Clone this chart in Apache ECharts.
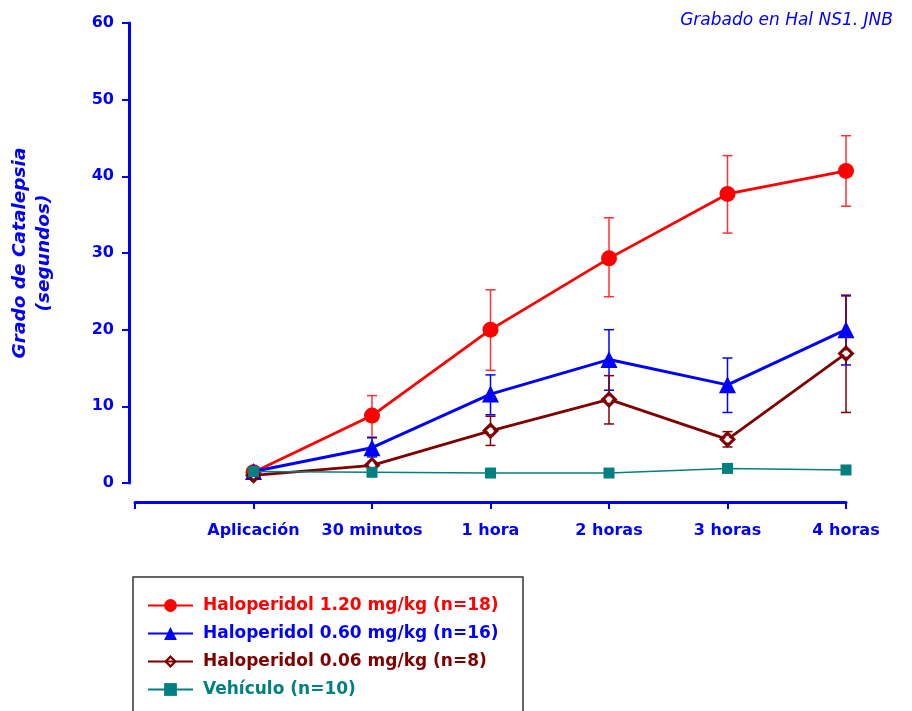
<!DOCTYPE html>
<html><head><meta charset="utf-8">
<script src="https://cdn.jsdelivr.net/npm/echarts@6/dist/echarts.min.js"></script>
<style>html,body{margin:0;padding:0;background:#fff}#c{width:912px;height:711px}</style>
</head><body><div id="c"></div>
<script>
var categories = ['', 'Aplicación', '30 minutos', '1 hora', '2 horas', '3 horas', '4 horas'];
var timepoints = ['Aplicación', '30 minutos', '1 hora', '2 horas', '3 horas', '4 horas'];
var yTicks = [0, 10, 20, 30, 40, 50, 60];

var hal120 = [1.4, 8.8, 20.0, 29.3, 37.7, 40.7];
var hal120Hi = [null, 11.4, 25.2, 34.6, 42.7, 45.3];
var hal120Lo = [null, 6.0, 14.7, 24.3, 32.6, 36.1];

var hal060 = [1.5, 4.6, 11.6, 16.1, 12.8, 20.0];
var hal060Hi = [null, 5.9, 14.1, 20.0, 16.3, 24.5];
var hal060Lo = [null, 3.4, 8.9, 12.1, 9.2, 15.4];

var hal006 = [1.0, 2.3, 6.8, 10.9, 5.7, 16.9];
var hal006Hi = [null, null, 8.7, 14.0, 6.7, 24.4];
var hal006Lo = [null, null, 4.9, 7.7, 4.7, 9.2];

var vehiculo = [1.5, 1.4, 1.3, 1.3, 1.9, 1.7];

var names = ['Haloperidol 1.20 mg/kg (n=18)', 'Haloperidol 0.60 mg/kg (n=16)', 'Haloperidol 0.06 mg/kg (n=8)', 'Vehículo (n=10)'];
var colors = ['#ff0000', '#0000ff', '#800000', '#008080'];
var errColors = ['#ff3030', '#0000ff', '#800000', '#008080'];
var BLUE = '#0000ff';
var FONT = 'DejaVu Sans';
var RING = 'path://M0,-10 L10,0 L0,10 L-10,0 Z M0,-5 L-5,0 L0,5 L5,0 Z';

function pts(vals) { return timepoints.map(function (c, i) { return [c, vals[i]]; }); }
function errData(hi, lo) {
  var out = [];
  timepoints.forEach(function (c, i) { if (hi[i] != null) out.push([c, lo[i], hi[i]]); });
  return out;
}
function errSeries(hi, lo, color, z) {
  return {
    type: 'custom', z: z, silent: true,
    data: errData(hi, lo),
    encode: { x: 0, y: [1, 2] },
    renderItem: function (params, api) {
      var x = api.value(0);
      var p1 = api.coord([x, api.value(1)]);
      var p2 = api.coord([x, api.value(2)]);
      var w = 5;
      var st = { stroke: color, lineWidth: 1.5 };
      return { type: 'group', children: [
        { type: 'line', shape: { x1: p1[0], y1: p1[1], x2: p2[0], y2: p2[1] }, style: st },
        { type: 'line', shape: { x1: p1[0] - w, y1: p1[1], x2: p1[0] + w, y2: p1[1] }, style: st },
        { type: 'line', shape: { x1: p2[0] - w, y1: p2[1], x2: p2[0] + w, y2: p2[1] }, style: st }
      ] };
    }
  };
}

var chart = echarts.init(document.getElementById('c'), null, { renderer: 'canvas' });
chart.setOption({
  animation: false,
  textStyle: { fontFamily: FONT },
  grid: { left: 133, right: 66, top: 23, bottom: 228 },
  xAxis: {
    type: 'category', data: categories, boundaryGap: false, offset: 19,
    axisLine: { onZero: false, lineStyle: { color: BLUE, width: 3 } },
    axisTick: { show: true, length: 7, interval: 0, lineStyle: { color: BLUE, width: 2 } },
    axisLabel: { color: BLUE, fontWeight: 'bold', fontSize: 16, margin: 21, interval: 0, fontFamily: FONT },
    splitLine: { show: false }
  },
  yAxis: {
    type: 'value', min: 0, max: 60, interval: 10, offset: 6,
    name: 'Grado de Catalepsia\n(segundos)',
    nameLocation: 'middle', nameRotate: 90, nameGap: 73,
    nameTextStyle: { color: BLUE, fontWeight: 'bold', fontStyle: 'italic', fontSize: 18.5, lineHeight: 24, fontFamily: FONT },
    axisLine: { show: true, lineStyle: { color: BLUE, width: 3 } },
    axisTick: { show: true, length: 7, lineStyle: { color: BLUE, width: 2 } },
    axisLabel: { color: BLUE, fontWeight: 'bold', fontSize: 16, margin: 15, fontFamily: FONT,
      formatter: function (v) { return yTicks.indexOf(v) >= 0 ? String(v) : ''; } },
    splitLine: { show: false }
  },
  legend: {
    orient: 'vertical', left: 142, top: 592,
    itemWidth: 45, itemHeight: 16, itemGap: 11,
    data: names.map(function (n, i) {
      var d = { name: n, textStyle: { color: colors[i] } };
      return d;
    }),
    textStyle: { fontWeight: 'bold', fontSize: 17, lineHeight: 16, fontFamily: FONT, padding: [0, 0, 0, 5] }
  },
  graphic: [
    { type: 'rect', shape: { x: 133, y: 577, width: 390, height: 200 },
      style: { fill: 'none', stroke: '#333', lineWidth: 1.5 }, z: 0 },
    { type: 'text', right: 19, top: 12,
      style: { text: 'Grabado en Hal NS1. JNB', fill: BLUE, font: 'italic 17px "' + FONT + '"' } }
  ],
  series: [
    errSeries(hal120Hi, hal120Lo, errColors[0], 2),
    errSeries(hal060Hi, hal060Lo, errColors[1], 2),
    errSeries(hal006Hi, hal006Lo, errColors[2], 2),
    { name: names[0], type: 'line', data: pts(hal120), z: 3, color: colors[0],
      symbol: 'circle', symbolSize: 16, lineStyle: { width: 2.8, color: colors[0] },
      itemStyle: { color: colors[0] } },
    { name: names[1], type: 'line', data: pts(hal060), z: 4, color: colors[1],
      symbol: 'triangle', symbolSize: 17, lineStyle: { width: 3, color: colors[1] },
      itemStyle: { color: colors[1] } },
    { name: names[2], type: 'line', data: pts(hal006), z: 5, color: colors[2],
      symbol: RING, symbolSize: 17, lineStyle: { width: 2.8, color: colors[2] },
      itemStyle: { color: colors[2] } },
    { type: 'line', data: pts(hal006), z: 5, silent: true,
      symbol: 'diamond', symbolSize: 7, showSymbol: true,
      lineStyle: { width: 0, opacity: 0 }, itemStyle: { color: '#ffffff' } },
    { name: names[3], type: 'line', data: pts(vehiculo), z: 6, color: colors[3],
      symbol: 'rect', symbolSize: 11, lineStyle: { width: 1.5, color: colors[3] },
      itemStyle: { color: colors[3] } }
  ]
});
</script></body></html>
